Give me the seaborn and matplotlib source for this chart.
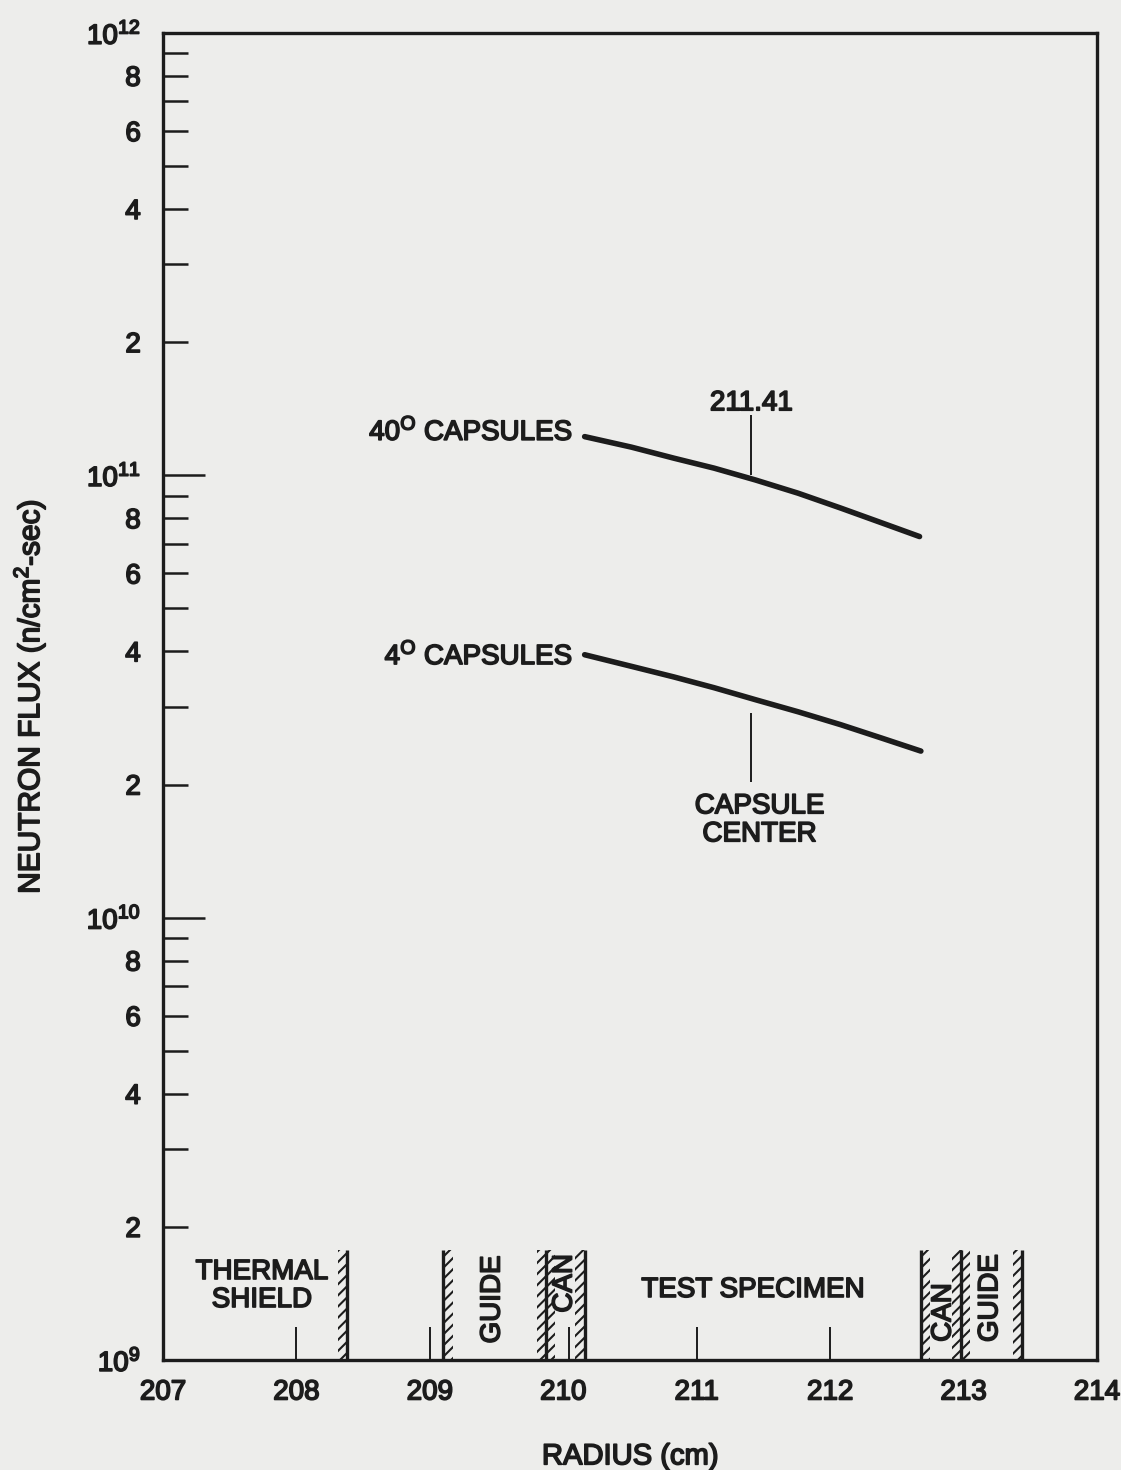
import matplotlib
matplotlib.use("Agg")
import numpy as np
import pandas as pd
import matplotlib.pyplot as plt
import matplotlib.patheffects as pe
import matplotlib.text as mtext
import seaborn as sns

# ---- flux profiles across the capsule (radius in cm, flux in n/cm^2-sec)
radius_40 = [210.16, 210.51, 210.83, 211.13, 211.44, 211.76, 212.08, 212.38, 212.67]
flux_40 = [1.223e11, 1.158e11, 1.093e11, 1.038e11, 9.76e10, 9.11e10, 8.43e10, 7.82e10, 7.27e10]
radius_4 = [210.16, 210.51, 210.83, 211.13, 211.44, 211.76, 212.08, 212.38, 212.68]
flux_4 = [3.93e10, 3.70e10, 3.50e10, 3.31e10, 3.11e10, 2.92e10, 2.73e10, 2.55e10, 2.38e10]
series_names = ["40° capsules", "4° capsules"]

# ---- structural walls (radius, side of the hatching)
wall_x = [208.38, 209.10, 209.87, 210.16, 212.68, 212.98, 213.44]
wall_side = ["left", "right", "both", "left", "right", "both", "left"]
wall_top = 1.77e9

# ---- short reference marks on the radius axis
mark_x = [208.0, 209.0, 210.04, 211.0, 212.0]
mark_top = 1.19e9

capsule_center = 211.41

x_ticks = [207, 208, 209, 210, 211, 212, 213, 214]
x_tick_labels = ["207", "208", "209", "210", "211", "212", "213", "214"]
y_major = [1e9, 1e10, 1e11, 1e12]
y_major_labels = ["$10^{9}$", "$10^{10}$", "$10^{11}$", "$10^{12}$"]
y_minor = [k * 10.0 ** d for d in (9, 10, 11) for k in range(2, 10)]
y_minor_labels = [str(k) if k in (2, 4, 6, 8) else "" for d in (9, 10, 11) for k in range(2, 10)]

ink = "#1c1c1c"
paper = "#ededeb"

sns.set_theme(style="ticks")
plt.rcParams["font.family"] = ["Liberation Sans", "DejaVu Sans"]
plt.rcParams["mathtext.default"] = "regular"
plt.rcParams["hatch.linewidth"] = 1.5
plt.rcParams["text.color"] = ink
plt.rcParams["axes.labelcolor"] = ink
plt.rcParams["xtick.color"] = ink
plt.rcParams["ytick.color"] = ink

fig = plt.figure(figsize=(11.21, 14.70), dpi=100, facecolor=paper)
ax = fig.add_axes([0.1454, 0.0748, 0.8332, 0.9028])
ax.set_facecolor(paper)

df = pd.DataFrame({
    "radius": radius_40 + radius_4,
    "flux": flux_40 + flux_4,
    "series": [series_names[0]] * len(radius_40) + [series_names[1]] * len(radius_4),
})
sns.lineplot(data=df, x="radius", y="flux", hue="series", palette=[ink, ink],
             linewidth=4.0, legend=False, ax=ax, solid_capstyle="round",
             solid_joinstyle="round")

ax.set_yscale("log")
ax.set_xlim(207, 214)
ax.set_ylim(1e9, 1e12)

# walls with hatching
hatch_w = 0.07
for x, side in zip(wall_x, wall_side):
    ax.vlines(x, 1e9, wall_top, color=ink, linewidth=2.4)
    spans = []
    if side in ("left", "both"):
        spans.append((x - hatch_w, x))
    if side in ("right", "both"):
        spans.append((x, x + hatch_w))
    for a, b in spans:
        ax.fill_betweenx([1e9, wall_top], a, b, facecolor="none",
                         edgecolor=ink, hatch="///", linewidth=0)

ax.vlines(mark_x, 1e9, mark_top, color=ink, linewidth=1.4)

# capsule center markers
ax.vlines(capsule_center, 1.003e11, 1.37e11, color=ink, linewidth=1.4)
ax.vlines(capsule_center, 2.03e10, 2.90e10, color=ink, linewidth=1.4)

fs = 20
ax.text(capsule_center, 1.455e11, "211.41", ha="center", va="center", fontsize=fs)
ax.text(210.07, 1.253e11, "40$^{O}$ CAPSULES", ha="right", va="center", fontsize=fs)
ax.text(210.07, 3.90e10, "4$^{O}$ CAPSULES", ha="right", va="center", fontsize=fs)
ax.text(211.47, 1.66e10, "CAPSULE\nCENTER", ha="center", va="center", fontsize=fs,
        linespacing=1.1)
ax.text(207.74, 1.47e9, "THERMAL\nSHIELD", ha="center", va="center", fontsize=fs,
        linespacing=1.1)
ax.text(211.42, 1.44e9, "TEST SPECIMEN", ha="center", va="center", fontsize=fs)
ax.text(209.47, 1.37e9, "GUIDE", ha="center", va="center", rotation=90, fontsize=fs)
ax.text(210.01, 1.49e9, "CAN", ha="center", va="center", rotation=90, fontsize=fs)
ax.text(212.85, 1.28e9, "CAN", ha="center", va="center", rotation=90, fontsize=fs)
ax.text(213.20, 1.38e9, "GUIDE", ha="center", va="center", rotation=90, fontsize=fs)

# axes
ax.set_xticks(x_ticks, labels=x_tick_labels)
ax.set_yticks(y_major, labels=y_major_labels)
ax.set_yticks(y_minor, labels=y_minor_labels, minor=True)
ax.tick_params(axis="x", length=0, pad=14, labelsize=fs)
ax.tick_params(axis="x", which="minor", length=0)
ax.tick_params(axis="y", which="major", direction="in", length=30, width=1.8,
               pad=16, labelsize=fs)
ax.tick_params(axis="y", which="minor", direction="in", length=18, width=1.8,
               pad=16, labelsize=fs)
ax.tick_params(axis="y", right=False)

for sp in ax.spines.values():
    sp.set_visible(True)
    sp.set_linewidth(2.4)
    sp.set_color(ink)

ax.set_xlabel("RADIUS (cm)", fontsize=21)
ax.set_ylabel("NEUTRON FLUX (n/cm$^{2}$-sec)", fontsize=21.5)
ax.xaxis.set_label_coords(0.5, -0.062)
ax.yaxis.set_label_coords(-0.124, 0.5)

# heavier lettering, like the typeset originals
fig.canvas.draw()
heavy = [pe.withStroke(linewidth=1.2, foreground=ink)]
for t in fig.findobj(mtext.Text):
    if t.get_text():
        t.set_path_effects(heavy)

fig.savefig("out.png", dpi=100, facecolor=paper)
